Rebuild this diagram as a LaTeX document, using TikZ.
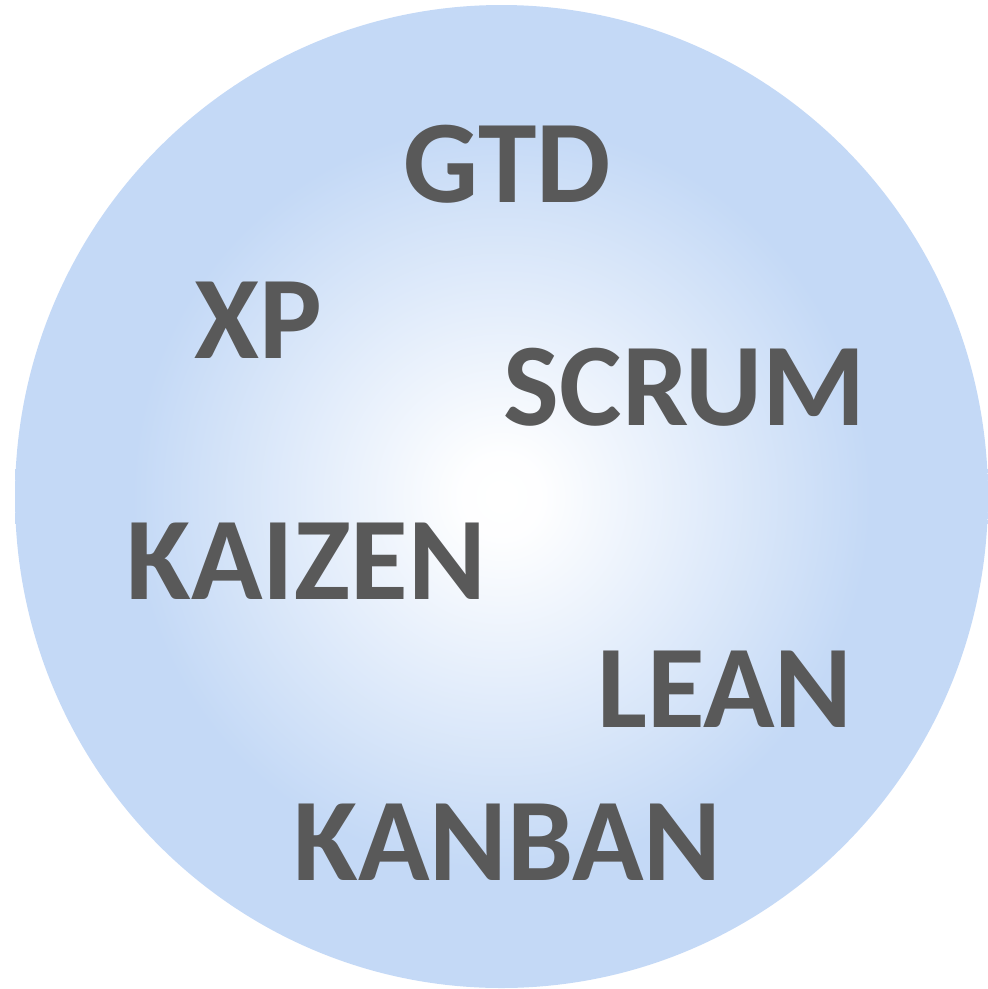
\documentclass[tikz,border=0pt]{standalone}
\usepackage{fontspec}
\setmainfont{Carlito}
\definecolor{edgeblue}{HTML}{C4D9F6}
\definecolor{txtgray}{HTML}{595959}
\pgfdeclareradialshading{ballshade}{\pgfpoint{0bp}{0bp}}{color(0bp)=(white); color(2bp)=(white!98!edgeblue); color(19bp)=(edgeblue); color(25bp)=(edgeblue); color(50bp)=(edgeblue)}
\tikzset{word/.style={text=txtgray, font=\fontsize{118}{124}\selectfont\bfseries, inner sep=0pt, anchor=base}}
\begin{document}
\begin{tikzpicture}[x=1pt,y=-1pt]
\useasboundingbox (0,0) rectangle (988,989);
\shade[shading=ballshade] (501.5,496.5) ellipse [x radius=486.5, y radius=491.5];
\node[word] (gtd) at (507.5,202) {GTD};
\node[word] (xp) at (258.5,358) {XP};
\node[word] (scrum) at (685,425) {SCRUM};
\node[word] (kaizen) at (306.5,599) {KAIZEN};
\node[word] (lean) at (725,727) {LEAN};
\node[word] (kanban) at (507.5,880) {KANBAN};
\end{tikzpicture}
\end{document}
